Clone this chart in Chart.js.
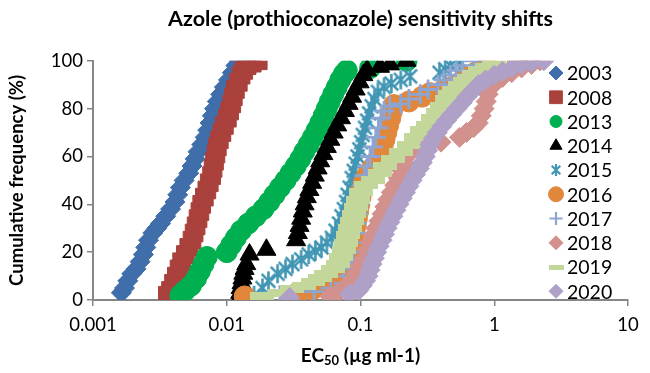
<!DOCTYPE html>
<html><head><meta charset="utf-8">
<script src="https://cdn.jsdelivr.net/npm/chart.js@4.4.0/dist/chart.umd.min.js"></script>
<style>html,body{margin:0;padding:0;background:#fff}</style>
</head><body>
<canvas id="c" width="650" height="373" style="width:650px;height:373px;display:block"></canvas>
<script>
// ---- data (EC50 in µg/ml, cumulative frequency in %) ----
const years = ['2003','2008','2013','2014','2015','2016','2017','2018','2019','2020'];
const xTicks = [0.001, 0.01, 0.1, 1, 10];
const xTickLabels = ['0.001', '0.01', '0.1', '1', '10'];
const yTicks = [0, 20, 40, 60, 80, 100];

const ec2003 = [0.00163,0.00172,0.00182,0.00195,0.0021,0.00225,0.00238,0.00248,0.0026,0.0028,0.0030,0.0032,0.0035,0.0038,0.0041,0.0043,0.0045,0.0048,0.0052,0.0055,0.0058,0.0061,0.0065,0.0069,0.0072,0.0075,0.0078,0.0081,0.0085,0.0090,0.0096,0.0103,0.0110,0.0117,0.0124];
const cf2003 = [3,5,8,11,13,16,19,22,25,28,30,32,35,38,41,44,47,50,53,56,59,62,65,68,71,74,77,80,83,86,89,92,95,98,100];

const ec2008 = [0.0036,0.0038,0.0040,0.0042,0.0044,0.0046,0.0049,0.0052,0.0055,0.0057,0.0059,0.0061,0.0063,0.0065,0.0068,0.0071,0.0074,0.0077,0.0079,0.0081,0.0083,0.0085,0.0088,0.0092,0.0096,0.0101,0.0105,0.0109,0.0112,0.0116,0.0122,0.0128,0.0134,0.0142,0.0155,0.0172];
const cf2008 = [2,4,7,10,13,16,19,22,25,28,31,34,37,40,43,46,49,52,55,58,61,64,67,70,73,76,79,82,85,88,91,94,96,98,99,100];

const ec2013 = [0.0045,0.0049,0.0054,0.0059,0.0063,0.0067,0.0071,0.0100,0.0108,0.0117,0.0128,0.0145,0.0165,0.0188,0.0208,0.0228,0.0250,0.0275,0.0300,0.0328,0.0355,0.0380,0.0410,0.0440,0.0470,0.0500,0.0530,0.0560,0.0590,0.0625,0.0665,0.0705,0.0750,0.0790,0.118,0.221];
const cf2013 = [2,4,6,9,12,15,18,20,23,26,29,32,35,38,41,44,47,50,53,56,59,62,65,68,71,74,77,80,83,86,89,92,94.5,96,97,100];

const ec2014 = [0.0125,0.0126,0.0127,0.0129,0.0131,0.0133,0.0136,0.0140,0.0148,0.0198,0.0330,0.0340,0.0350,0.0360,0.0370,0.0382,0.0397,0.0415,0.0435,0.0455,0.0478,0.0500,0.0528,0.0560,0.0595,0.0630,0.0670,0.0715,0.0765,0.0815,0.0865,0.0920,0.0985,0.105,0.112,0.140,0.166,0.221];
const cf2014 = [1,3,5,7,9,11,13,15,19,21,25,28,31,34,37,40,43,46,49,52,55,58,61,64,67,70,73,76,79,82,85,88,91,94,96,97.5,98.5,100];

const ec2015 = [0.0160,0.0185,0.0205,0.0240,0.0275,0.0310,0.0360,0.0410,0.0460,0.0510,0.0560,0.0610,0.0650,0.0690,0.0720,0.0750,0.0780,0.0800,0.0830,0.0860,0.0890,0.0920,0.0950,0.0980,0.1010,0.1040,0.1080,0.1120,0.1160,0.1210,0.1270,0.1350,0.150,0.170,0.200,0.235,0.390,0.430,0.470,0.550];
const cf2015 = [2,5,8,11,13,15,17,19,20.5,22,24,26,29,32,35,38,41,44,47,51,54,57,60,63,66,69,72,75,78,81,84,87,89,90.5,92,93.5,95,96.5,98,100];

const ec2016 = [0.0136,0.034,0.044,0.056,0.070,0.080,0.083,0.085,0.086,0.087,0.088,0.090,0.092,0.094,0.096,0.098,0.100,0.102,0.106,0.112,0.122,0.132,0.140,0.146,0.151,0.156,0.161,0.167,0.172,0.178,0.23,0.29,0.33,0.42,0.50,0.56,0.62,0.72,0.88,1.50];
const cf2016 = [1.5,3,4.5,6,8,10,13,16,19,22,25,28,31,34,37,40,43,46,49,52,55,58,61,64,67,70,73,76,79,81.5,83,85,86.5,88,89.5,91,93,95,97.5,100];

const ec2017 = [0.025,0.045,0.060,0.075,0.082,0.084,0.086,0.088,0.090,0.092,0.094,0.096,0.098,0.100,0.103,0.107,0.112,0.118,0.124,0.130,0.136,0.142,0.150,0.165,0.200,0.230,0.280,0.320,0.380,0.420,0.470,0.520,0.580,0.700];
const cf2017 = [2,3.5,5,7,10,13,16,20,24,28,32,36,40,44,48,52,56,60,64,68,72,76,79,81,82,84,86,88,90,92,94,96,98,100];

const ec2018 = [0.059,0.068,0.076,0.085,0.092,0.098,0.105,0.112,0.118,0.124,0.130,0.137,0.145,0.152,0.160,0.170,0.180,0.192,0.205,0.215,0.222,0.230,0.270,0.400,0.550,0.620,0.700,0.760,0.800,0.840,0.870,0.900,0.950,1.02,1.15,1.35,1.60,1.90,2.20];
const cf2018 = [1.5,3,5,8,11,14,17,21,24,27,30,33,36,39,42,45,48,51,54,57,60,62,64,66,68,70,72,74,77,80,83,86,89,91,93,95,97,98.5,100];

const ec2019 = [0.0183,0.025,0.031,0.038,0.044,0.050,0.055,0.062,0.068,0.072,0.075,0.078,0.081,0.084,0.087,0.090,0.093,0.096,0.100,0.110,0.125,0.140,0.152,0.175,0.200,0.230,0.260,0.290,0.320,0.350,0.380,0.410,0.440,0.470,0.500,0.550,0.600,0.650,0.710,0.780,0.880,1.00];
const cf2019 = [1.5,3,4.5,6,7.5,9,11,13,15,18,21,24,27,30,33,36,39,42,45,48,50,53,56,59,62,65,68,71,73,76,78.5,81,84,86,88,90,91.5,93,94.5,96,97.5,99];

const ec2020 = [0.0296,0.083,0.097,0.103,0.109,0.114,0.118,0.122,0.127,0.132,0.138,0.145,0.151,0.158,0.166,0.175,0.184,0.194,0.205,0.217,0.230,0.243,0.258,0.275,0.290,0.305,0.318,0.330,0.350,0.375,0.405,0.440,0.480,0.525,0.575,0.625,0.690,0.760,0.860,1.00,1.15,1.35,1.60,1.90,2.35];
const cf2020 = [1,2.5,4,6,8,10,12.5,15,17.5,20,22.5,25,27.5,30,32.5,35,37.5,40,42.5,45,47.5,50,52.5,55,57.5,60,62.5,65,67.5,70,72.5,75,77.5,80,82.5,85,87.5,90,92,94,95.5,97,98.5,99.3,100];

const seriesX = [ec2003, ec2008, ec2013, ec2014, ec2015, ec2016, ec2017, ec2018, ec2019, ec2020];
const seriesY = [cf2003, cf2008, cf2013, cf2014, cf2015, cf2016, cf2017, cf2018, cf2019, cf2020];

// ---- styles ----
const colors = ['#406EAA','#AA413C','#00B050','#000000','#4196B4','#E1873C','#8CA5D2','#D2918C','#C3D79B','#AFA0C8'];

function asterisk(size, color, lw) {
  const c = document.createElement('canvas'); c.width = c.height = size;
  const g = c.getContext('2d'); g.strokeStyle = color; g.lineWidth = lw; g.lineCap = 'butt';
  const m = size / 2, r = size / 2 - 1, d = r * 0.72;
  g.beginPath();
  g.moveTo(m, m - r); g.lineTo(m, m + r);
  g.moveTo(m - d, m - d); g.lineTo(m + d, m + d);
  g.moveTo(m + d, m - d); g.lineTo(m - d, m + d);
  g.stroke(); return c;
}
function bar(w, h, color) {
  const c = document.createElement('canvas'); c.width = w; c.height = h;
  const g = c.getContext('2d'); g.fillStyle = color; g.fillRect(0, 0, w, h); return c;
}
const plotStyle = [
  {style:'rectRot', r:10},
  {style:'rect', r:12.5},
  {style:'circle', r:10.5},
  {style:'triangle', r:11},
  {style:asterisk(21, colors[4], 2.6), r:10},
  {style:'circle', r:10.5},
  {style:'cross', r:10, bw:2.8},
  {style:'rectRot', r:10},
  {style:bar(24, 8, colors[8]), r:11},
  {style:'rectRot', r:10}
];
const legendStyle = [
  {style:'rectRot', r:7},
  {style:'rect', r:9},
  {style:'circle', r:6},
  {style:'triangle', r:7},
  {style:asterisk(14, colors[4], 2.2), r:7},
  {style:'circle', r:7.5},
  {style:'cross', r:6.5, bw:2.2},
  {style:'rectRot', r:7},
  {style:bar(15, 5, colors[8]), r:7},
  {style:'rectRot', r:7}
];

const datasets = years.map((yr, i) => ({
  label: yr,
  data: seriesX[i].map((v, k) => ({x: v, y: seriesY[i][k]})),
  order: years.length - 1 - i,
  showLine: false,
  pointStyle: plotStyle[i].style,
  pointRadius: plotStyle[i].r,
  pointHoverRadius: plotStyle[i].r,
  backgroundColor: colors[i],
  borderColor: colors[i],
  borderWidth: plotStyle[i].bw || 1
}));

const FONT = 'Lato, "Open Sans", sans-serif';

const legendPlugin = {
  id: 'sideLegend',
  afterDraw(chart) {
    const ctx = chart.ctx;
    ctx.save();
    years.forEach((yr, i) => {
      const y = 73 + i * 24.25, x = 556;
      ctx.fillStyle = colors[i]; ctx.strokeStyle = colors[i];
      ctx.lineWidth = legendStyle[i].bw || 1;
      Chart.helpers.drawPoint(ctx, {pointStyle: legendStyle[i].style, radius: legendStyle[i].r, rotation: 0, borderWidth: legendStyle[i].bw || 1}, x, y);
      ctx.fillStyle = '#000';
      ctx.font = '19.5px ' + FONT;
      ctx.textBaseline = 'middle'; ctx.textAlign = 'left';
      ctx.fillText(yr, 567, y + 1);
    });
    ctx.restore();
  }
};

const xTitlePlugin = {
  id: 'xTitle',
  afterDraw(chart) {
    const ctx = chart.ctx, ca = chart.chartArea;
    ctx.save();
    ctx.fillStyle = '#000'; ctx.textBaseline = 'alphabetic'; ctx.textAlign = 'left';
    const big = 'bold 19px ' + FONT, small = 'bold 13px ' + FONT;
    const p1 = 'EC', p2 = '50', p3 = ' (µg ml-1)';
    ctx.font = big; const w1 = ctx.measureText(p1).width, w3 = ctx.measureText(p3).width;
    ctx.font = small; const w2 = ctx.measureText(p2).width;
    let x = (ca.left + ca.right) / 2 - (w1 + w2 + w3) / 2;
    const y = 362;
    ctx.font = big; ctx.fillText(p1, x, y); x += w1;
    ctx.font = small; ctx.fillText(p2, x, y + 3); x += w2;
    ctx.font = big; ctx.fillText(p3, x, y);
    ctx.restore();
  }
};

const axisGray = '#868686';
new Chart(document.getElementById('c'), {
  type: 'scatter',
  data: { datasets },
  options: {
    responsive: false,
    devicePixelRatio: 1,
    animation: false,
    events: [],
    layout: { padding: { left: 0, right: 22, top: 0, bottom: 0 } },
    plugins: {
      legend: { display: false },
      tooltip: { enabled: false },
      title: {
        display: true,
        text: 'Azole (prothioconazole) sensitivity shifts',
        fullSize: false,
        color: '#000',
        font: { family: FONT, size: 21.5, weight: 'bold' },
        padding: { top: 6, bottom: 29 }
      }
    },
    scales: {
      x: {
        type: 'logarithmic',
        min: xTicks[0], max: xTicks[xTicks.length - 1],
        afterBuildTicks: s => { s.ticks = xTicks.map(v => ({ value: v })); },
        afterFit: s => { s.height = 73; },
        ticks: {
          callback: (v, i) => xTickLabels[i],
          color: '#000', font: { family: FONT, size: 18.5 }, padding: 8, maxRotation: 0, autoSkip: false
        },
        grid: { display: true, drawOnChartArea: false, drawTicks: true, tickLength: 6, color: axisGray, lineWidth: 1.5 },
        border: { display: true, color: axisGray, width: 2 }
      },
      y: {
        min: 0, max: 100,
        afterBuildTicks: s => { s.ticks = yTicks.map(v => ({ value: v })); },
        afterFit: s => { s.width = 93; },
        ticks: { color: '#000', font: { family: FONT, size: 18.5 }, padding: 4 },
        grid: { display: true, drawOnChartArea: false, drawTicks: true, tickLength: 6, color: axisGray, lineWidth: 1.5 },
        border: { display: true, color: axisGray, width: 2 },
        title: {
          display: true, text: 'Cumulative frequency (%)', color: '#000',
          font: { family: FONT, size: 18.5, weight: 'bold' }, padding: { top: 6, bottom: 0 }
        }
      }
    }
  },
  plugins: [legendPlugin, xTitlePlugin]
});
</script>
</body></html>
